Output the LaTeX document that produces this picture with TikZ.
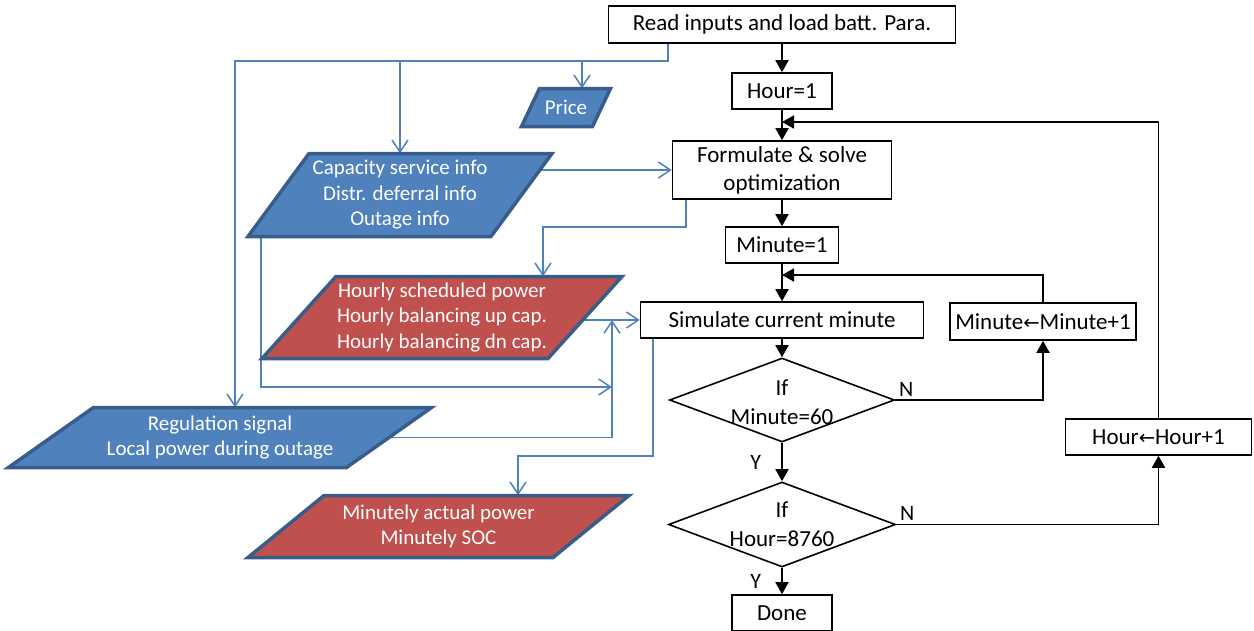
\documentclass[tikz,border=0pt]{standalone}
\usepackage{fontspec}
\setmainfont{Carlito}
\newfontfamily\arrowfont[Scale=0.85]{DejaVu Sans}
\usetikzlibrary{arrows.meta,shapes.geometric,backgrounds}
\definecolor{boxblue}{HTML}{4F81BD}
\definecolor{boxred}{HTML}{C0504D}
\definecolor{edgeblue}{HTML}{385D8A}
\def\larr{{\arrowfont ←}}
\tikzset{
  proc/.style={draw, fill=white, line width=1.6pt, inner sep=0pt, align=center, font=\fontsize{23}{28}\selectfont},
  decide/.style={draw, fill=white, diamond, line width=1.6pt, inner sep=0pt},
  dtext/.style={align=center, inner sep=0pt, font=\fontsize{23}{29}\selectfont},
  ioedge/.style={draw=edgeblue, line width=3.5pt, line join=miter},
  iotext/.style={rectangle, inner sep=0pt, text=white, align=center, font=\fontsize{21}{25.5}\selectfont},
  lbl/.style={inner sep=0pt, font=\fontsize{22}{26}\selectfont},
  flow/.style={line width=1.8pt, -{Triangle[length=12pt,width=13pt]}},
  info/.style={draw=boxblue, line width=1.5pt, line join=miter},
  infoarrow/.style={info, -{Straight Barb[length=12pt,width=16pt]}}
}
% [fill](name)(cx,cy)(side:height:slant){text}
\def\iobox[#1](#2)(#3,#4)(#5:#6:#7)#8{%
  \draw[ioedge, fill=#1] (#3-#5/2-#7/2, #4+#6/2) -- ++(#5,0) -- ++(#7,-#6) -- ++(-#5,0) -- cycle;
  \node[iotext, minimum width=#5pt, minimum height=#6pt] (#2) at (#3,#4) {#8};}

\begin{document}
\begin{tikzpicture}[x=1pt, y=-1pt]
		%%%%% START %%%%%
		\useasboundingbox (0,0) rectangle (1254,630);
		
		% main column
		\node[proc, minimum width=347pt, minimum height=37pt] (read) at (782,24.5) {Read inputs and load batt. Para.};
		\node[proc, minimum width=100pt, minimum height=36pt] (hour1) at (782,91) {Hour=1};
		\node[proc, minimum width=219pt, minimum height=58pt] (form) at (782,170) {Formulate \& solve\\optimization};
		\node[proc, minimum width=113pt, minimum height=36pt] (min1) at (782,245) {Minute=1};
		\node[proc, minimum width=283pt, minimum height=36pt] (sim) at (782,320) {Simulate current minute};
		\node[decide, minimum width=225pt, minimum height=84pt] (dmin) at (782,400) {};
		\node[dtext] (dmintext) at (782,402) {If\\Minute=60};
		\node[decide, minimum width=227pt, minimum height=85pt] (dhour) at (782,524.5) {};
		\node[dtext] (dhourtext) at (782,524) {If\\Hour=8760};
		\node[proc, minimum width=100pt, minimum height=36pt] (done) at (782,613) {Done};
		
		% counters
		\node[proc, minimum width=186pt, minimum height=37pt] (minup) at (1043,321.5) {Minute\larr Minute+1};
		\node[proc, minimum width=186pt, minimum height=36pt] (hourup) at (1158.5,437) {Hour\larr Hour+1};
		
		% data
		\iobox[boxblue](price)(566,107.5)(71:38:18){Price}
		\iobox[boxblue](cap)(400,195)(243:83:61){Capacity service info\\Distr. deferral info\\Outage info}
		\iobox[boxred](hourly)(442,317.5)(286:82:74){Hourly scheduled power\\Hourly balancing up cap.\\Hourly balancing dn cap.}
		\iobox[boxblue](reg)(220,437.5)(338:60:85){Regulation signal\\Local power during outage}
		\iobox[boxred](minute)(438.5,526.5)(305:62:76){Minutely actual power\\Minutely SOC}
		
		\coordinate (busr) at (668,61);
		\coordinate (busl) at (235,61);
		\coordinate (pricein) at ([xshift=16pt]price.north);
		\coordinate (fbend) at (543,227);
		\coordinate (col) at (612,320);
		\coordinate (capdrop) at (261,387);
		\coordinate (sbend) at (518,456);
		\coordinate (loopm) at (782,275);
		\coordinate (looph) at (782,122);
		
		% data lines
		\begin{scope}[on background layer]
		\draw[infoarrow] (read.south -| busr) |- (busl) -- (busl |- reg.north);
		\draw[infoarrow] (busl -| cap.north) -- (cap.north);
		\draw[infoarrow] (busl -| pricein) -- (pricein);
		\draw[infoarrow] (cap.center |- form.west) -- (form.west);
		\draw[infoarrow] ([xshift=-96pt]form.south) |- (fbend) -- (fbend |- hourly.north);
		\draw[infoarrow] (hourly.center |- sim.west) -- (sim.west);
		\draw[infoarrow] (capdrop |- cap.south) -- (capdrop) -- (capdrop -| col);
		\draw[infoarrow] (reg.center) -| (col);
		\draw[infoarrow] ([xshift=-129pt]sim.south) |- (sbend) -- (sbend |- minute.north);
		\end{scope}
		
		% flow
		\draw[flow] (read) -- (hour1);
		\draw[flow] (hour1) -- (form);
		\draw[flow] (form) -- (min1);
		\draw[flow] (min1) -- (sim);
		\draw[flow] (sim) -- (dmin);
		\draw[flow] (dmin) -- node[lbl, left=20pt] (ylab1) {Y} (dhour);
		\draw[flow] (dhour) -- node[lbl, left=20pt] (ylab2) {Y} (done);
		\draw[flow] (dmin.east) node[lbl, above right=3pt] (nlab1) {N} -| (minup);
		\draw[flow] (dhour.east) node[lbl, above right=3pt] (nlab2) {N} -| (hourup);
		\draw[flow] (minup) |- (loopm);
		\draw[flow] (hourup) |- (looph);
		%%%%% END %%%%%
	\end{tikzpicture}
\end{document}
